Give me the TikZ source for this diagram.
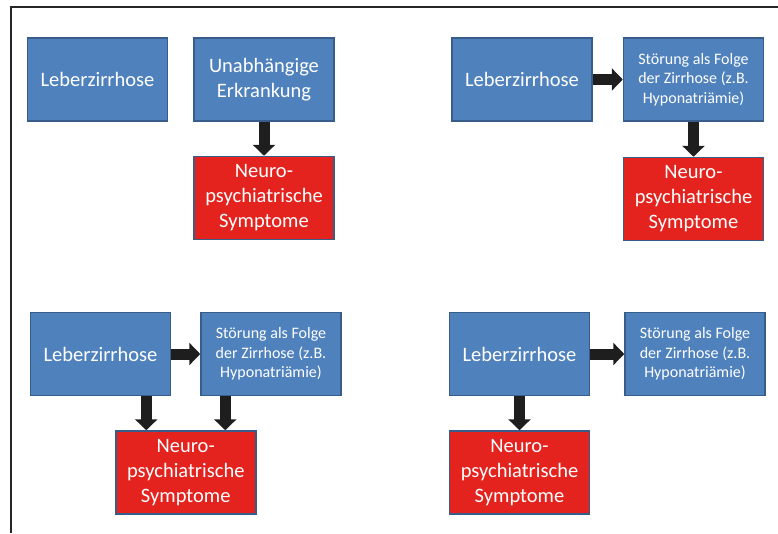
\documentclass[tikz,border=0pt]{standalone}
\usepackage{fontspec}
\setmainfont{Carlito}
\usepackage{tikz}
\usetikzlibrary{arrows.meta, positioning, calc}
\definecolor{blauBox}{RGB}{79,129,189}
\definecolor{blauRand}{RGB}{56,93,138}
\definecolor{rotBox}{RGB}{228,34,30}
\definecolor{pfeilGrau}{RGB}{30,30,30}

\begin{document}
\begin{tikzpicture}[
  x=1pt, y=-1pt,
  krank/.style={rectangle, draw=blauRand, fill=blauBox, line width=1.5pt,
                text=white, minimum width=140pt, minimum height=83pt,
                inner sep=2pt, align=center,
                font=\fontsize{20.5}{25}\selectfont},
  folge/.style={krank, font=\fontsize{16}{19.5}\selectfont},
  symptom/.style={krank, fill=rotBox},
  pfeil/.style={-{Triangle[length=11pt, width=22pt]}, line width=11pt,
                draw=pfeilGrau},
  rahmen/.style={line width=1.5pt, draw=black!85}
]
\useasboundingbox (0,0) rectangle (778,533);

% Rahmen oben und links
\draw[rahmen] (11,533) -- (11,7) -- (778,7);

% Oben links: unabhängige Erkrankung
\node[krank] (leberA) at (97.5,79.5) {Leberzirrhose};
\node[krank, right=25pt of leberA] (unabh) {Unabhängige\\Erkrankung};
\node[symptom, below=34pt of unabh] (neuroA) {Neuro-\\psychiatrische\\Symptome};

% Oben rechts: Störung als Folge der Zirrhose
\node[krank] (leberB) at (522,79.5) {Leberzirrhose};
\node[folge, right=30pt of leberB] (stoerB) {Störung als Folge\\der Zirrhose (z.B.\\Hyponatriämie)};
\node[symptom, below=35pt of stoerB] (neuroB) {Neuro-\\psychiatrische\\Symptome};

% Unten links: beide Ursachen
\node[krank] (leberC) at (100.5,354) {Leberzirrhose};
\node[folge, right=29pt of leberC] (stoerC) {Störung als Folge\\der Zirrhose (z.B.\\Hyponatriämie)};
\coordinate (mitteC) at ($(leberC.south)!0.5!(stoerC.south)$);
\node[symptom, below=34pt of mitteC] (neuroC) {Neuro-\\psychiatrische\\Symptome};

% Unten rechts: Zirrhose direkt
\node[krank] (leberD) at (519.5,354) {Leberzirrhose};
\node[folge, right=34pt of leberD] (stoerD) {Störung als Folge\\der Zirrhose (z.B.\\Hyponatriämie)};
\node[symptom, below=34pt of leberD] (neuroD) {Neuro-\\psychiatrische\\Symptome};

% Pfeile
\draw[pfeil] (unabh) -- (neuroA);
\draw[pfeil] (leberB) -- (stoerB);
\draw[pfeil] (stoerB) -- (neuroB);
\draw[pfeil] (leberC) -- (stoerC);
\draw[pfeil] ([xshift=-25pt]leberC.south east) -- ([xshift=-25pt]leberC.south east |- neuroC.north);
\draw[pfeil] ([xshift=25pt]stoerC.south west) -- ([xshift=25pt]stoerC.south west |- neuroC.north);
\draw[pfeil] (leberD) -- (stoerD);
\draw[pfeil] (leberD) -- (neuroD);

\end{tikzpicture}
\end{document}
